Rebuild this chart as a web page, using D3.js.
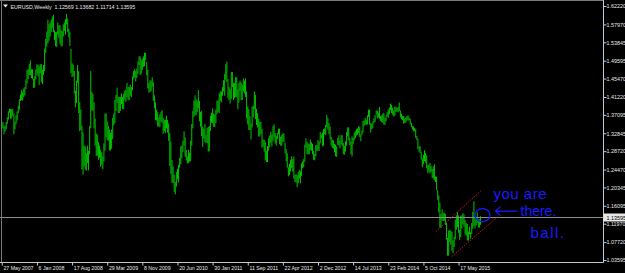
<!DOCTYPE html>
<html>
<head>
<meta charset="utf-8">
<script src="https://cdn.jsdelivr.net/npm/d3@7"></script>
<style>
  html, body { margin: 0; padding: 0; background: #000; overflow: hidden; }
  svg { display: block; }
  text { font-family: "Liberation Sans", Arial, sans-serif; }
</style>
</head>
<body>
<div id="chart"></div>
<script>
// weekly EURUSD bars, first bar = week of 27 May 2007
const firstWeek = '27 May 2007';
const highs = [
  // 2007
  1.3475,1.3545,1.3440,1.3460,1.3545,1.3650,1.3790,1.3850,1.3840,1.3840,1.3850,1.3740,1.3550,1.3700,1.3790,1.3920,
  1.4070,1.4180,1.4280,1.4230,1.4320,1.4350,1.4530,1.4750,1.4760,1.4890,1.4966,1.4760,1.4760,1.4540,1.4600,1.4760,
  // 2008
  1.4880,1.4860,1.4820,1.4880,1.4880,1.4750,1.4860,1.5240,1.5460,1.5630,1.5905,1.5800,1.5840,1.5910,1.5980,1.6020,
  1.5660,1.5620,1.5630,1.5840,1.5780,1.5780,1.5660,1.5640,1.5800,1.5840,1.5920,1.6038,1.5930,1.5690,1.5620,1.5230,
  1.4900,1.4870,1.4720,1.4270,1.4500,1.4860,1.4720,1.4000,1.3830,1.3460,1.3300,1.3000,1.2980,1.2820,1.3000,1.2880,
  1.3450,1.4720,1.4240,1.4200,
  // 2009
  1.4000,1.3620,1.3280,1.3250,1.3080,1.3000,1.2900,1.2850,1.2750,1.3050,1.3740,1.3740,1.3560,1.3460,1.3370,1.3290,
  1.3370,1.3640,1.3740,1.4050,1.4170,1.4340,1.4120,1.4120,1.4120,1.4200,1.4120,1.4200,1.4270,1.4290,1.4450,1.4350,
  1.4360,1.4400,1.4350,1.4590,1.4720,1.4760,1.4720,1.4780,1.4940,1.5060,1.5060,1.4970,1.5010,1.5060,1.5145,1.5140,
  1.4930,1.4750,1.4450,1.4510,
  // 2010
  1.4500,1.4580,1.4460,1.4160,1.4000,1.3830,1.3770,1.3650,1.3720,1.3780,1.3820,1.3640,1.3590,1.3600,1.3690,1.3590,
  1.3510,1.3290,1.3090,1.2670,1.2520,1.2330,1.2160,1.2390,1.2470,1.2560,1.2720,1.2980,1.3000,1.3110,1.3330,1.3190,
  1.2900,1.2750,1.2910,1.2840,1.3110,1.3500,1.3800,1.4040,1.4160,1.4070,1.4040,1.4280,1.4030,1.3780,1.3800,1.3440,
  1.3390,1.3500,1.3240,1.3410,
  // 2011
  1.3430,1.3450,1.3690,1.3760,1.3860,1.3740,1.3720,1.3830,1.4040,1.4040,1.4200,1.4250,1.4250,1.4350,1.4510,1.4650,
  1.4880,1.4940,1.4530,1.4350,1.4300,1.4700,1.4700,1.4450,1.4440,1.4580,1.4580,1.4300,1.4450,1.4500,1.4450,1.4400,
  1.4550,1.4500,1.4550,1.4250,1.3900,1.3840,1.3680,1.3510,1.3900,1.3920,1.4250,1.4170,1.3850,1.3750,1.3620,1.3550,
  1.3550,1.3380,1.3140,1.3130,
  // 2012
  1.3080,1.2880,1.2990,1.3170,1.3230,1.3320,1.3250,1.3450,1.3490,1.3290,1.3220,1.3290,1.3390,1.3390,1.3210,1.3250,
  1.3280,1.3280,1.3070,1.2920,1.2820,1.2500,1.2580,1.2670,1.2750,1.2690,1.2750,1.2320,1.2340,1.2320,1.2390,1.2440,
  1.2410,1.2590,1.2640,1.2690,1.3020,1.3170,1.3080,1.3050,1.3040,1.3140,1.3080,1.3040,1.2880,1.2810,1.3010,1.3010,
  1.3130,1.3090,1.3310,1.3260,1.3300,
  // 2013
  1.3380,1.3400,1.3480,1.3710,1.3640,1.3520,1.3440,1.3200,1.3140,1.3120,1.3040,1.3020,1.2980,1.3180,1.3240,1.3110,
  1.3240,1.3240,1.3060,1.2990,1.3100,1.3310,1.3420,1.3420,1.3180,1.3090,1.3210,1.3180,1.3300,1.3340,1.3380,1.3400,
  1.3450,1.3430,1.3260,1.3350,1.3570,1.3580,1.3640,1.3590,1.3700,1.3830,1.3830,1.3520,1.3500,1.3560,1.3630,1.3710,
  1.3810,1.3810,1.3750,1.3890,
  // 2014
  1.3680,1.3700,1.3740,1.3750,1.3640,1.3700,1.3770,1.3830,1.3880,1.3970,1.3940,1.3880,1.3810,1.3900,1.3900,1.3870,
  1.3890,1.3995,1.3810,1.3740,1.3680,1.3680,1.3620,1.3650,1.3680,1.3700,1.3640,1.3620,1.3530,1.3450,1.3440,1.3410,
  1.3380,1.3220,1.3160,1.2980,1.2990,1.2860,1.2700,1.2790,1.2890,1.2830,1.2780,1.2550,1.2560,1.2600,1.2530,1.2460,
  1.2520,1.2570,1.2290,1.2280,
  // 2015
  1.1970,1.1850,1.1680,1.1420,1.1530,1.1450,1.1450,1.1420,1.1220,1.0870,1.1040,1.1050,1.1040,1.1010,1.0810,1.0900,
  1.1290,1.1390,1.1470,1.1390,1.1050,1.1380,1.1390,1.1440,1.1410,1.1280,1.1210,1.1190,1.1010,1.1130,1.1000,1.1210,
  1.1470,1.1715,1.1330,1.1340,1.1460,1.1300,1.1300,1.13682
];
const lows = [
  // 2007
  1.3405,1.3395,1.3260,1.3330,1.3380,1.3500,1.3600,1.3760,1.3620,1.3630,1.3690,1.3260,1.3380,1.3500,1.3580,1.3750,
  1.3830,1.4030,1.4050,1.4040,1.4120,1.4160,1.4300,1.4430,1.4530,1.4630,1.4630,1.4560,1.4530,1.4330,1.4340,1.4530,
  // 2008
  1.4640,1.4600,1.4400,1.4670,1.4460,1.4420,1.4630,1.4720,1.5140,1.5290,1.5360,1.5420,1.5520,1.5620,1.5720,1.5620,
  1.5440,1.5290,1.5280,1.5560,1.5480,1.5350,1.5300,1.5290,1.5520,1.5650,1.5560,1.5800,1.5620,1.5500,1.5300,1.4670,
  1.4580,1.4600,1.4200,1.3880,1.3980,1.4450,1.3750,1.3330,1.3360,1.2450,1.2330,1.2520,1.2450,1.2420,1.2600,1.2430,
  1.2800,1.3400,1.3820,1.3800,
  // 2009
  1.3400,1.3000,1.2760,1.2770,1.2670,1.2720,1.2510,1.2560,1.2460,1.2630,1.2880,1.3190,1.3130,1.3110,1.2890,1.2890,
  1.2930,1.3150,1.3470,1.3520,1.3800,1.3990,1.3750,1.3750,1.3800,1.3960,1.3850,1.3840,1.4060,1.4010,1.4120,1.4050,
  1.4050,1.4150,1.4120,1.4280,1.4550,1.4570,1.4480,1.4560,1.4650,1.4860,1.4630,1.4660,1.4750,1.4820,1.4830,1.4980,
  1.4620,1.4320,1.4220,1.4240,
  // 2010
  1.4260,1.4360,1.4030,1.3860,1.3590,1.3580,1.3440,1.3440,1.3430,1.3550,1.3530,1.3270,1.3330,1.3290,1.3400,1.3300,
  1.3110,1.2530,1.2350,1.2140,1.2140,1.1930,1.1875,1.2050,1.2230,1.2150,1.2490,1.2570,1.2710,1.2850,1.3000,1.2740,
  1.2660,1.2590,1.2600,1.2630,1.2640,1.3000,1.3400,1.3660,1.3700,1.3700,1.3770,1.3860,1.3560,1.3440,1.3220,1.2970,
  1.3160,1.3080,1.3060,1.3060,
  // 2011
  1.2860,1.2870,1.3330,1.3530,1.3520,1.3430,1.3430,1.3520,1.3730,1.3780,1.3750,1.4030,1.4000,1.4150,1.4250,1.4150,
  1.4520,1.4470,1.4100,1.4050,1.3970,1.4080,1.4350,1.4050,1.4100,1.4120,1.4120,1.3840,1.3990,1.4250,1.4050,1.4050,
  1.4250,1.4200,1.4120,1.3630,1.3490,1.3360,1.3360,1.3140,1.3420,1.3650,1.3840,1.3610,1.3480,1.3420,1.3210,1.3210,
  1.3260,1.2950,1.2980,1.2860,
  // 2012
  1.2660,1.2620,1.2620,1.2880,1.2970,1.3070,1.2980,1.3100,1.3190,1.3050,1.3000,1.3150,1.3260,1.3030,1.3000,1.3000,
  1.3090,1.3080,1.2820,1.2640,1.2490,1.2290,1.2320,1.2400,1.2480,1.2400,1.2240,1.2160,1.2150,1.2040,1.2130,1.2240,
  1.2130,1.2300,1.2480,1.2500,1.2630,1.2950,1.2800,1.2800,1.2800,1.2900,1.2880,1.2800,1.2670,1.2660,1.2760,1.2880,
  1.2880,1.2880,1.3050,1.3170,1.2990,
  // 2013
  1.3000,1.3260,1.3240,1.3430,1.3370,1.3270,1.3140,1.3000,1.2950,1.2930,1.2850,1.2750,1.2740,1.3020,1.3000,1.2940,
  1.3030,1.2990,1.2800,1.2790,1.2860,1.3000,1.3220,1.3120,1.3010,1.2800,1.2750,1.3030,1.3120,1.3170,1.3230,1.3250,
  1.3290,1.3200,1.3100,1.3240,1.3300,1.3450,1.3480,1.3480,1.3490,1.3660,1.3480,1.3300,1.3380,1.3400,1.3520,1.3550,
  1.3720,1.3630,1.3650,1.3620,
  // 2014
  1.3570,1.3540,1.3530,1.3480,1.3480,1.3560,1.3670,1.3640,1.3720,1.3820,1.3750,1.3710,1.3670,1.3690,1.3780,1.3790,
  1.3770,1.3800,1.3650,1.3610,1.3590,1.3500,1.3520,1.3530,1.3580,1.3580,1.3580,1.3490,1.3420,1.3370,1.3330,1.3330,
  1.3180,1.3130,1.2920,1.2860,1.2830,1.2680,1.2500,1.2570,1.2640,1.2610,1.2480,1.2360,1.2400,1.2360,1.2390,1.2250,
  1.2240,1.2200,1.2160,1.1970,
  // 2015
  1.1750,1.1460,1.1100,1.1100,1.1270,1.1260,1.1260,1.1170,1.0830,1.0460,1.0460,1.0780,1.0710,1.0570,1.0520,1.0660,
  1.0840,1.1060,1.1120,1.0990,1.0820,1.0890,1.1090,1.1190,1.1130,1.0950,1.0920,1.0810,1.0810,1.0950,1.0850,1.0960,
  1.1080,1.1150,1.1090,1.1150,1.1220,1.1110,1.1110,1.11714
];

const symbolName = 'EURUSD,Weekly';
const lastOHLC = [1.12569, 1.13682, 1.11714, 1.13595];

const xTickLabels = ['27 May 2007', '6 Jan 2008', '17 Aug 2008', '29 Mar 2009', '8 Nov 2009', '20 Jun 2010',
  '30 Jan 2011', '11 Sep 2011', '22 Apr 2012', '2 Dec 2012', '14 Jul 2013', '23 Feb 2014', '5 Oct 2014', '17 May 2015'];
const yTickValues = [1.62220, 1.57970, 1.53845, 1.49595, 1.45470, 1.41220, 1.37095, 1.32845,
  1.28720, 1.24470, 1.20345, 1.16095, 1.11970, 1.07720, 1.03595];

// hand drawn channel: [week index, price]
const channelUpper = [[395.2, 1.1013], [437.1, 1.1975]];
const channelLower = [[409.7, 1.0436], [451.9, 1.1364]];
const noteLines = ['you are', 'there.', 'ball.'];

const width = 625;
const height = 273;
const plotRight = 603.5;
const plotBottom = 262.5;

const svg = d3.select('#chart')
  .append('svg')
  .attr('width', width)
  .attr('height', height)

svg.append('rect')
  .attr('width', width)
  .attr('height', height)
  .attr('fill', '#000')

const parse = d3.timeParse('%d %b %Y');
const t0 = parse(firstWeek);
const weekIndex = (s) => Math.round((parse(s) - t0) / (7 * 864e5));

const x = d3.scaleLinear()
  .domain([0, highs.length - 1])
  .range([1.8, 480.5])

const y = d3.scaleLinear()
  .domain([1.03595, 1.62220])
  .range([260, 6])

// frame
svg.append('line')
  .attr('x1', 0).attr('x2', plotRight).attr('y1', 0.5).attr('y2', 0.5)
  .attr('stroke', '#7a7a7a')
svg.append('line')
  .attr('x1', 1.5).attr('x2', 1.5).attr('y1', 0).attr('y2', plotBottom)
  .attr('stroke', '#7a7a7a')

// bars
svg.append('g')
  .selectAll('rect')
  .data(d3.range(highs.length))
  .join('rect')
  .attr('x', (i) => x(i) - 0.5)
  .attr('width', 1)
  .attr('y', (i) => y(highs[i]))
  .attr('height', (i) => Math.max(1, y(lows[i]) - y(highs[i])))
  .attr('fill', '#00c400')

// bid line
const lastClose = lastOHLC[3];
svg.append('line')
  .attr('x1', 0).attr('x2', plotRight)
  .attr('y1', Math.round(y(lastClose)) + 0.5).attr('y2', Math.round(y(lastClose)) + 0.5)
  .attr('stroke', '#8c8c8c')

// channel
const line = d3.line()
  .x((d) => x(d[0]))
  .y((d) => y(d[1]))
;[channelUpper, channelLower].forEach((c) => {
  svg.append('path')
    .attr('d', line(c))
    .attr('fill', 'none')
    .attr('stroke', '#d01818')
    .attr('stroke-width', 0.9)
    .attr('stroke-dasharray', '1.6,1.1')
})

// axes
const yAxis = svg.append('g')
  .attr('transform', `translate(${plotRight},0)`)
  .call(d3.axisRight(y).tickValues(yTickValues).tickSize(3).tickPadding(0).tickFormat(d3.format('.5f')))
yAxis.select('.domain').remove()
yAxis.selectAll('line').attr('stroke', '#c8c8c8')
yAxis.selectAll('text').attr('fill', '#e8e8e8').style('font-size', '5.4px')

const xAxis = svg.append('g')
  .attr('transform', `translate(0,${plotBottom})`)
  .call(d3.axisBottom(x)
    .tickValues(xTickLabels.map(weekIndex))
    .tickFormat((d, i) => xTickLabels[i])
    .tickSize(3).tickPadding(0.6))
xAxis.select('.domain').remove()
xAxis.selectAll('line').attr('stroke', '#c8c8c8')
xAxis.selectAll('text')
  .attr('fill', '#e8e8e8')
  .attr('text-anchor', 'start')
  .attr('x', 1.2)
  .style('font-size', '5.2px')

svg.append('line')
  .attr('x1', plotRight).attr('x2', plotRight).attr('y1', 0).attr('y2', plotBottom)
  .attr('stroke', '#c8c8c8')
svg.append('line')
  .attr('x1', 0).attr('x2', plotRight).attr('y1', plotBottom).attr('y2', plotBottom)
  .attr('stroke', '#c8c8c8')

// price label
const py = Math.round(y(lastClose)) + 0.5;
svg.append('rect')
  .attr('x', plotRight).attr('y', py - 4)
  .attr('width', width - plotRight).attr('height', 8)
  .attr('fill', '#e8e8e8')
svg.append('text')
  .attr('x', plotRight + 3).attr('y', py + 2)
  .attr('fill', '#000')
  .style('font-size', '5.4px')
  .text(d3.format('.5f')(lastClose))

// title
svg.append('path')
  .attr('d', 'M3,4.5 L8,4.5 L5.5,7.5 Z')
  .attr('fill', '#e8e8e8')
svg.append('text')
  .attr('x', 10.5).attr('y', 8.6)
  .attr('fill', '#e8e8e8')
  .attr('xml:space', 'preserve')
  .style('white-space', 'pre')
  .style('font-size', '5.3px')
  .text(`${symbolName}  ${lastOHLC.map(d3.format('.5f')).join(' ')}`)

// hand drawn note, anchored to the last bar
const ax = x(highs.length - 1);
const ay = y(lastClose);
const note = svg.append('g')
  .attr('fill', 'none')
  .attr('stroke', '#1a1aff')
  .attr('stroke-width', 1.2)
note.append('ellipse')
  .attr('cx', ax + 2).attr('cy', ay - 1.5)
  .attr('rx', 7.5).attr('ry', 6.5)
note.append('path')
  .attr('d', `M${ax + 15},${ay - 5.5} L${ax + 37},${ay - 5.5} M${ax + 20},${ay - 10} L${ax + 15},${ay - 5.5} L${ax + 20},${ay - 1}`)

const noteText = svg.append('g')
  .attr('fill', '#1a1aff')
  .style('font-family', '"DejaVu Sans", sans-serif')
  .style('font-weight', 200)
noteText.append('text').attr('x', ax + 13).attr('y', ay - 18).style('font-size', '15px')
  .style('letter-spacing', '0.5px').text(noteLines[0])
noteText.append('text').attr('x', ax + 40).attr('y', ay - 0.5).style('font-size', '14px').text(noteLines[1])
noteText.append('text').attr('x', ax + 50).attr('y', ay + 21).style('font-size', '15px')
  .style('letter-spacing', '1.5px').text(noteLines[2])
</script>
</body>
</html>
